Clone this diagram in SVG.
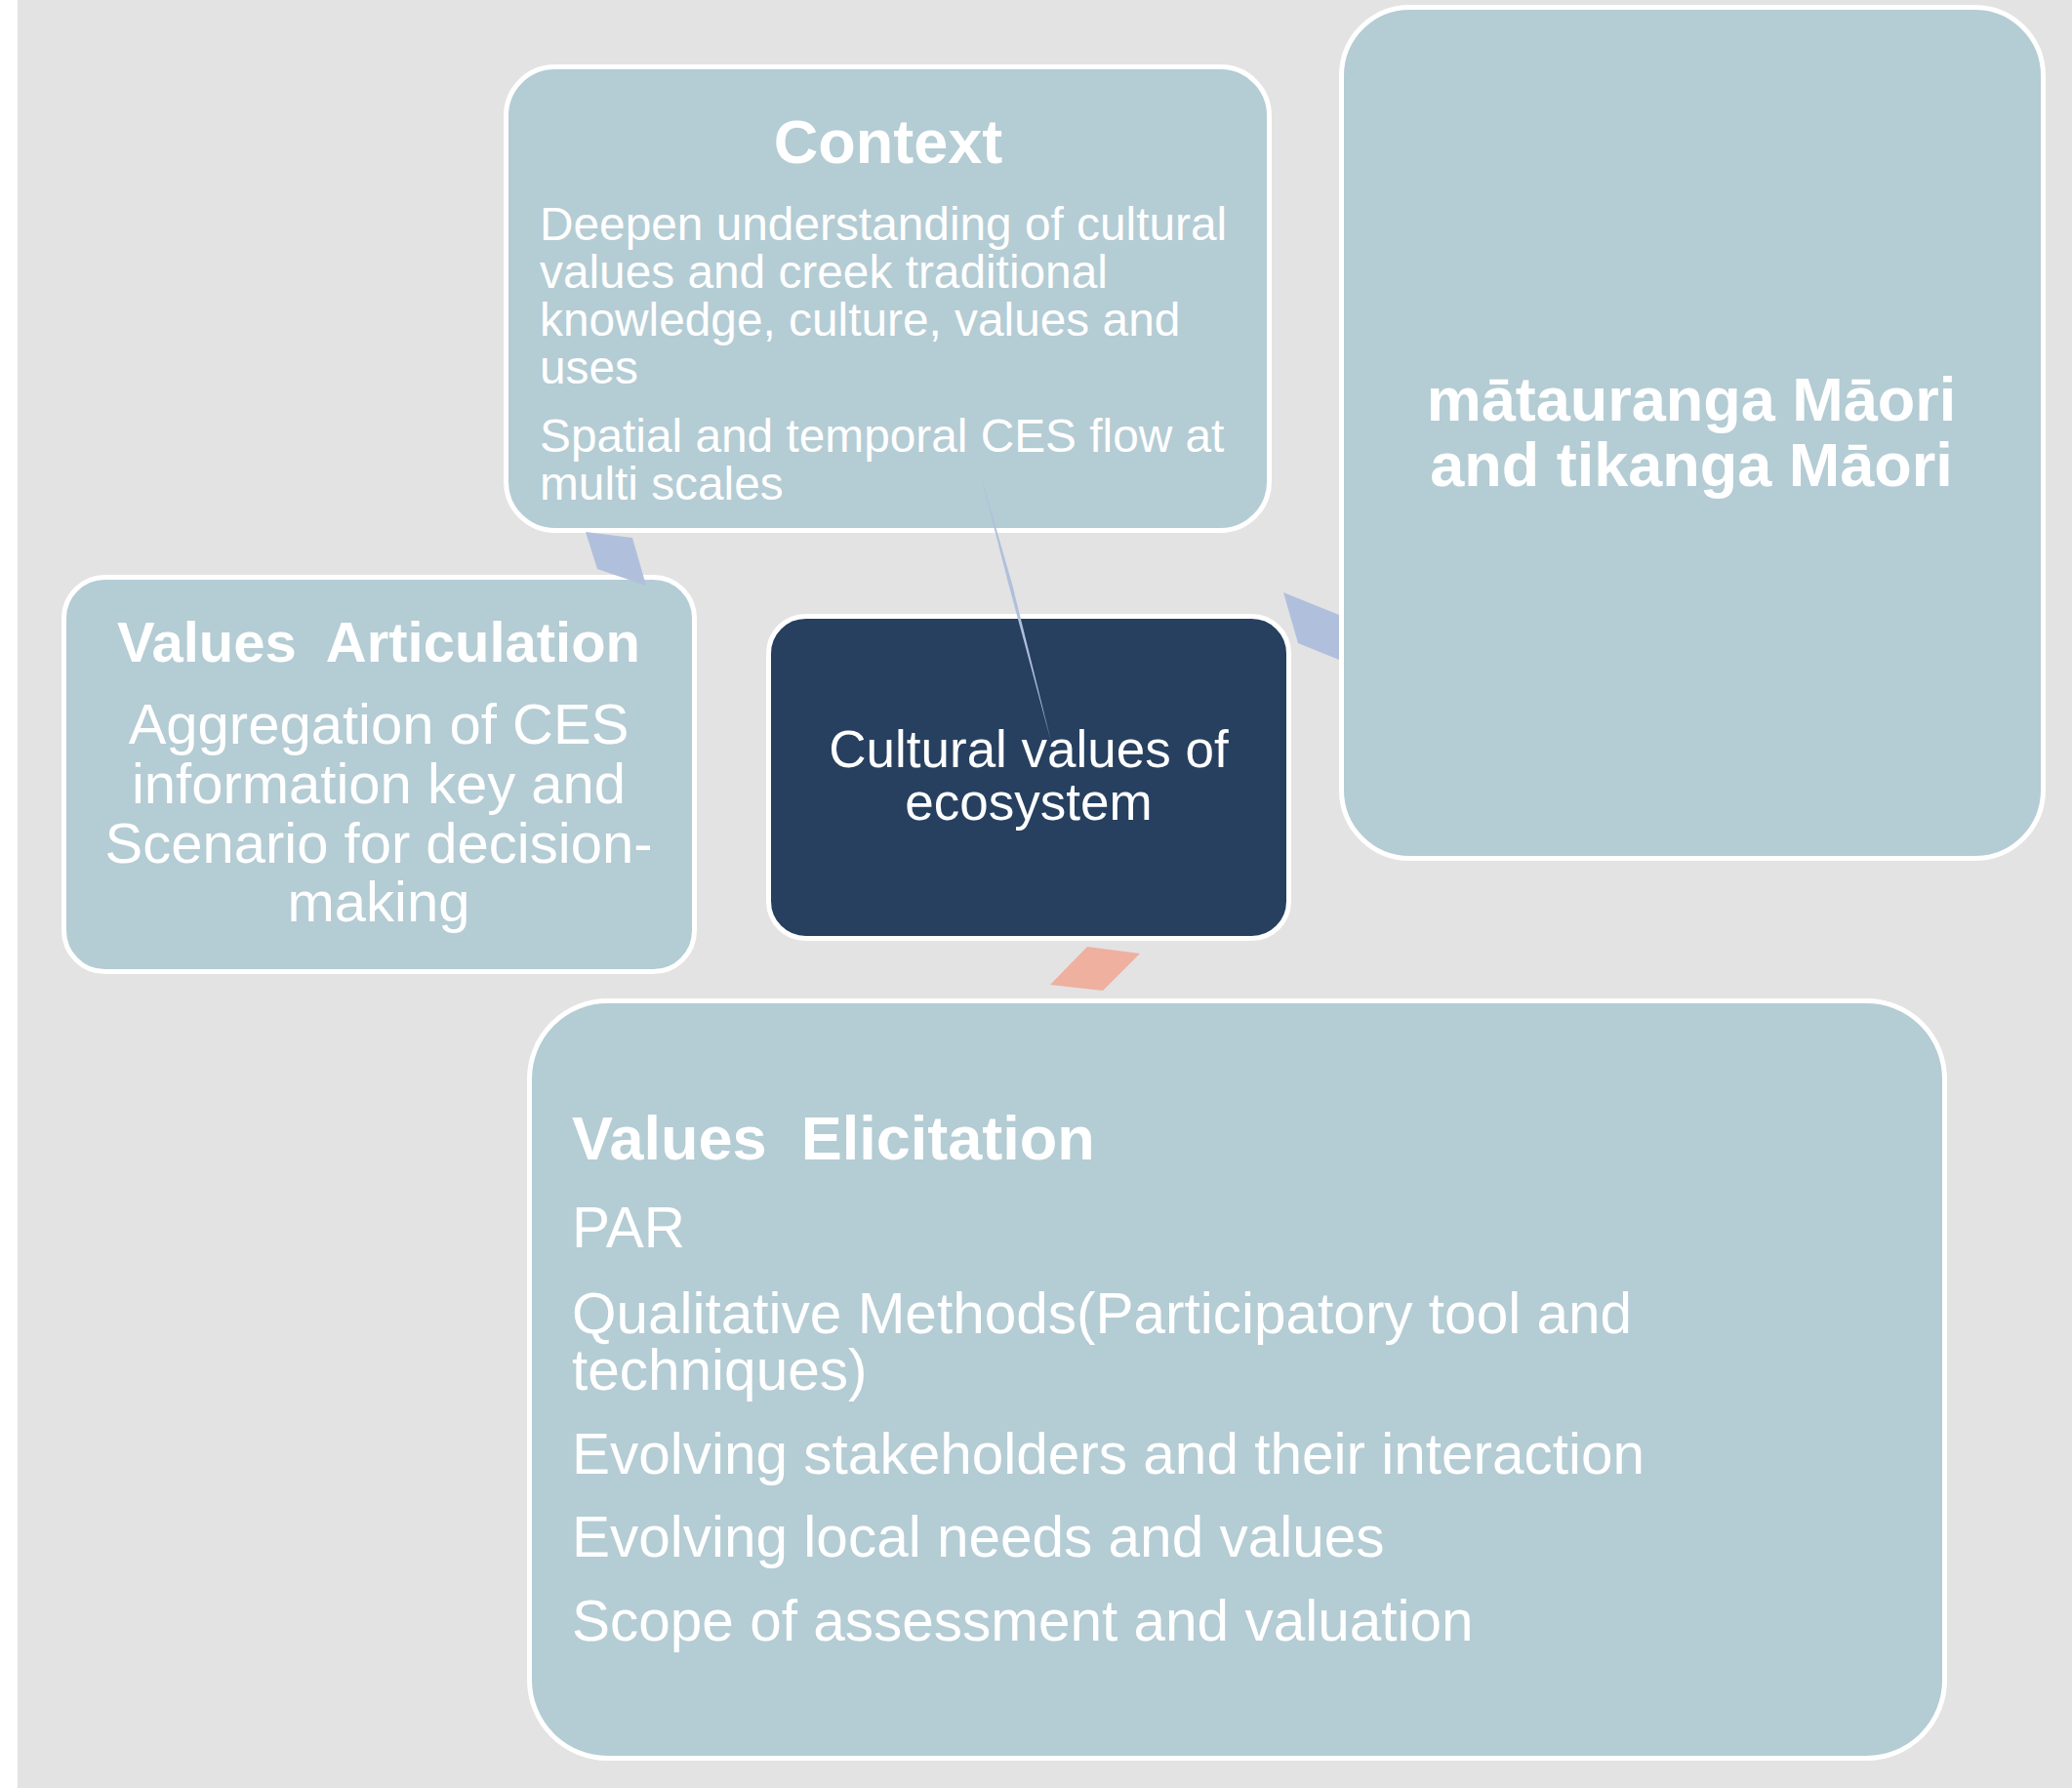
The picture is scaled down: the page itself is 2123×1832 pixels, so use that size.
<svg xmlns="http://www.w3.org/2000/svg" width="2123" height="1832" viewBox="0 0 2123 1832">
  <style>
    .box { fill: #b4ccd4; stroke: #ffffff; stroke-width: 5; }
    .core { fill: #274060; stroke: #ffffff; stroke-width: 5; }
    text { font-family: "Liberation Sans", Arial, Helvetica, sans-serif; fill: #ffffff; }
    .title { font-weight: bold; }
    .mid { text-anchor: middle; }
    .link-blue { fill: #b0c0dc; }
    .link-red { fill: #efb0a0; }
  </style>

  <!-- canvas -->
  <rect x="0" y="0" width="2123" height="1832" fill="#ffffff"/>
  <rect x="18" y="0" width="2105" height="1832" fill="#e3e3e3"/>

  <!-- Context -->
  <g id="node-context">
    <rect class="box" x="518.5" y="68.5" width="782" height="475" rx="50" ry="50"/>
    <text class="title mid" x="910" y="167" font-size="63">Context</text>
    <text x="553" font-size="47.8"><tspan x="553" y="246">Deepen understanding of cultural</tspan><tspan x="553" y="295">values and creek traditional</tspan><tspan x="553" y="344">knowledge, culture, values and</tspan><tspan x="553" y="393">uses</tspan><tspan x="553" y="463">Spatial and temporal CES flow at</tspan><tspan x="553" y="512">multi scales</tspan></text>
  </g>

  <!-- mātauranga Māori and tikanga Māori -->
  <g id="node-matauranga">
    <rect class="box" x="1374.5" y="7.5" width="719" height="872" rx="70" ry="70"/>
    <text class="title mid" font-size="63"><tspan x="1733" y="431">mātauranga Māori</tspan><tspan x="1733" y="498">and tikanga Māori</tspan></text>
  </g>

  <!-- Values Articulation -->
  <g id="node-articulation">
    <rect class="box" x="65.5" y="591.5" width="646" height="404" rx="42" ry="42"/>
    <text class="title mid" x="388" y="678" font-size="58" xml:space="preserve">Values  Articulation</text>
    <text class="mid" font-size="58"><tspan x="388" y="762">Aggregation of CES</tspan><tspan x="388" y="823">information key and</tspan><tspan x="388" y="884">Scenario for decision-</tspan><tspan x="388" y="944">making</tspan></text>
  </g>

  <!-- central node -->
  <g id="node-core">
    <rect class="core" x="787.5" y="631.5" width="533" height="330" rx="38" ry="38"/>
    <text class="mid" font-size="53"><tspan x="1054" y="786">Cultural values of</tspan><tspan x="1054" y="840">ecosystem</tspan></text>
  </g>

  <!-- Values Elicitation -->
  <g id="node-elicitation">
    <rect class="box" x="542.5" y="1025.5" width="1450" height="776" rx="80" ry="80"/>
    <text class="title" x="586" y="1188" font-size="63" xml:space="preserve">Values  Elicitation</text>
    <text font-size="58.5"><tspan x="586" y="1278">PAR</tspan><tspan x="586" y="1366">Qualitative Methods(Participatory tool and</tspan><tspan x="586" y="1424">techniques)</tspan><tspan x="586" y="1510">Evolving stakeholders and their interaction</tspan><tspan x="586" y="1595">Evolving local needs and values</tspan><tspan x="586" y="1681">Scope of assessment and valuation</tspan></text>
  </g>

  <!-- connectors -->
  <g id="connectors">
    <polygon class="link-blue" points="600,545 648,551 662,600 612,583"/>
    <polygon class="link-blue" points="1315,607 1372,630 1372,676 1330,659"/>
    <polygon class="link-red" points="1114,970 1168,977 1130,1015 1076,1009"/>
    <polygon class="link-blue" points="1003,480 1037.5,600 1077,760 1034,601"/>
  </g>
</svg>
